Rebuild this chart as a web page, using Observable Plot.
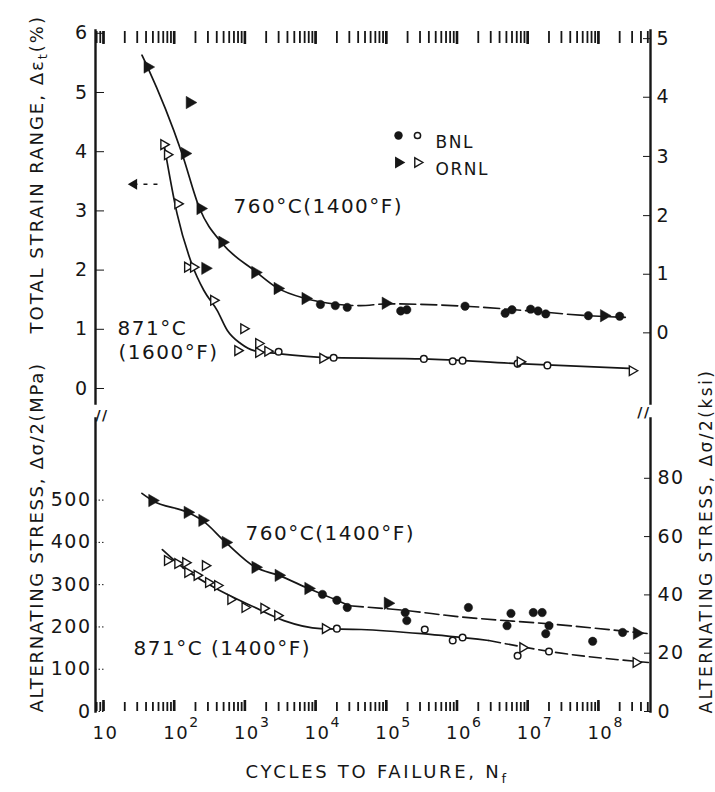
<!DOCTYPE html>
<html>
<head>
<meta charset="utf-8">
<script src="https://cdn.jsdelivr.net/npm/d3@7"></script>
<script src="https://cdn.jsdelivr.net/npm/@observablehq/plot@0.6"></script>
<style>
  body { margin: 0; background: #fff; }
  #chart { position: relative; width: 715px; height: 792px; background: #fff; }
  #chart svg { position: absolute; left: 0; top: 0; overflow: visible; }
</style>
</head>
<body>
<div id="chart"></div>
<script>
// ---------- axis ticks & labels ----------
const decadeTicks = [1e1, 1e2, 1e3, 1e4, 1e5, 1e6, 1e7, 1e8];
const decadeBase = ["10", "10", "10", "10", "10", "10", "10", "10"];
const decadeExp = ["", "2", "3", "4", "5", "6", "7", "8"];
const strainTicks = [0, 1, 2, 3, 4, 5, 6];
const strainLabels = ["0", "1", "2", "3", "4", "5", "6"];
const strainRightPos = [0.94, 1.93, 2.92, 3.92, 4.92, 5.91];
const strainRightLabels = ["0", "1", "2", "3", "4", "5"];
const stressTicks = [0, 100, 200, 300, 400, 500];
const stressLabels = ["0", "100", "200", "300", "400", "500"];
const ksiTicks = [0, 20, 40, 60, 80];
const ksiLabels = ["0", "20", "40", "60", "80"];
const MPA_PER_KSI = 6.895;
const legendLabels = ["BNL", "ORNL"];

// ---------- top panel: total strain range (%) vs cycles ----------
const topBNLfilled = [[11700,1.42],[19000,1.40],[28000,1.37],[160000,1.31],[195000,1.33],[1.3e6,1.39],[4.8e6,1.27],[6.0e6,1.33],[1.1e7,1.34],[1.4e7,1.31],[1.8e7,1.26],[7.2e7,1.23],[2.0e8,1.22]];
const topORNLfilled = [[42,5.43],[166,4.83],[141,3.97],[235,3.04],[480,2.47],[1400,1.96],[2900,1.69],[7200,1.52],[275,2.03],[98000,1.44],[1.2e8,1.23]];
const topBNLopen = [[3000,0.62],[18000,0.52],[3.4e5,0.50],[8.7e5,0.46],[1.2e6,0.47],[7.2e6,0.42],[1.9e7,0.39]];
const topORNLopen = [[71,4.12],[80,3.95],[112,3.12],[154,2.05],[187,2.05],[360,1.49],[960,1.01],[790,0.64],[1560,0.76],[1560,0.61],[2100,0.63],[12600,0.51],[7.8e6,0.45],[3.0e8,0.30]];
const topRunout = [[27, 58, 3.45]]; // [arrow head N, tail N, strain]
const top760solid = [[35,5.63],[42,5.43],[129,3.97],[229,3.04],[479,2.45],[1410,1.98],[2870,1.70],[7200,1.52],[20000,1.42]];
const top760dashed = [[20000,1.42],[43000,1.40],[100000,1.43],[1.3e6,1.39],[8.5e6,1.32],[7.2e7,1.23],[2.7e8,1.20]];
const top871 = [[71,4.16],[110,2.95],[178,2.10],[262,1.66],[405,1.32],[565,0.98],[870,0.76],[1350,0.64],[2870,0.59],[18000,0.52],[3.4e5,0.50],[7.2e6,0.42],[2.7e8,0.34]];

// ---------- bottom panel: alternating stress (MPa) vs cycles ----------
const botORNLfilled = [[49,499],[155,471],[250,452],[535,400],[1410,341],[3000,322],[7900,291],[1.05e5,256],[3.5e8,185]];
const botBNLfilled = [[12500,277],[20000,263],[28000,246],[1.85e5,234],[1.95e5,215],[1.45e6,246],[5.8e6,232],[5.1e6,203],[1.2e7,234],[1.6e7,234],[2.0e7,203],[1.8e7,184],[8.3e7,166],[2.2e8,187]];
const botBNLopen = [[20000,196],[3.5e5,194],[8.7e5,168],[1.2e6,175],[7.2e6,132],[2.0e7,142]];
const botORNLopen = [[80,357],[112,350],[145,352],[155,329],[210,322],[275,345],[305,305],[410,298],[630,265],[1000,246],[1850,244],[2900,227],[13700,196],[8.5e6,151],[3.4e8,116]];
const bot760solid = [[35,516],[49,499],[155,471],[250,452],[535,400],[1410,341],[3000,322],[7900,291],[20000,263],[30000,250]];
const bot760dashed = [[30000,250],[1.85e5,239],[9.5e5,225],[2.45e7,206],[5.1e8,184]];
const bot871solid = [[68,383],[152,333],[363,294],[1350,247],[3560,215],[11700,196],[44000,194],[3.2e5,184],[2.8e6,168]];
const bot871dashed = [[2.8e6,168],[2.45e7,140],[5.1e8,116]];

// ---------- drawing ----------
const ink = "#161616";
const FONT = "'DejaVu Sans', 'Liberation Sans', sans-serif";
const W = 715, H = 792, ML = 95, MR = 65;
const xDomain = [10 ** 0.887, 10 ** 8.737];
const minorTicks = d3.scaleLog().domain(xDomain).ticks(40);
const pts = a => a.map(([n, v]) => ({n, v}));
const baseStyle = {fontFamily: FONT, color: ink, background: "transparent", letterSpacing: "1.5px", overflow: "visible"};
const lab = (ticks, labels) => d => labels[ticks.indexOf(d)];

function symbolMarks(bf, rf, bo, ro) {
  return [
    Plot.dot(pts(bf), {x: "n", y: "v", r: 4.2, fill: ink, stroke: ink, strokeWidth: 0.5}),
    Plot.dot(pts(rf), {x: "n", y: "v", symbol: "triangle", rotate: 90, r: 4.6, fill: ink, stroke: ink, strokeWidth: 0.5}),
    Plot.dot(pts(bo), {x: "n", y: "v", r: 3.3, fill: "white", stroke: ink, strokeWidth: 1.5}),
    Plot.dot(pts(ro), {x: "n", y: "v", symbol: "triangle", rotate: 90, r: 3.6, fill: "white", stroke: ink, strokeWidth: 1.4})
  ];
}

const topPlot = Plot.plot({
  width: W, height: H,
  marginLeft: ML, marginRight: MR, marginTop: 30, marginBottom: H - 403,
  style: baseStyle,
  x: {type: "log", domain: xDomain},
  y: {domain: [-0.2534, 6.0473]},
  marks: [
    Plot.frame({anchor: "left", stroke: ink, strokeWidth: 2.4}),
    Plot.frame({anchor: "right", stroke: ink, strokeWidth: 2.4}),
    Plot.axisX(minorTicks, {anchor: "top", tickSize: -12, tickFormat: () => "", stroke: ink, strokeWidth: 1.8, label: null}),
    Plot.axisX(decadeTicks, {anchor: "top", tickSize: -13, tickFormat: () => "", stroke: ink, strokeWidth: 2.6, label: null}),
    Plot.axisY(strainTicks, {anchor: "left", tickSize: -9, tickFormat: () => "", stroke: ink, label: null}),
    Plot.axisY(strainTicks, {anchor: "left", tickSize: 0, tickPadding: 7, fontSize: 19, fill: ink, label: null,
      tickFormat: lab(strainTicks, strainLabels)}),
    Plot.axisY(strainRightPos, {anchor: "right", tickSize: -8, tickFormat: () => "", stroke: ink, label: null}),
    Plot.axisY(strainRightPos, {anchor: "right", tickSize: 0, tickPadding: 6, fontSize: 19, fill: ink, label: null,
      tickFormat: lab(strainRightPos, strainRightLabels)}),
    // curves
    Plot.line(pts(top760solid), {x: "n", y: "v", curve: "monotone-x", stroke: ink, strokeWidth: 1.7}),
    Plot.line(pts(top760dashed), {x: "n", y: "v", curve: "monotone-x", stroke: ink, strokeWidth: 1.6, strokeDasharray: "16,5"}),
    Plot.line(pts(top871), {x: "n", y: "v", curve: "monotone-x", stroke: ink, strokeWidth: 1.7}),
    // run-out arrow
    Plot.link(topRunout, {x1: d => d[1], x2: d => d[0], y1: d => d[2], y2: d => d[2], stroke: ink, strokeWidth: 1.6, strokeDasharray: "4,6"}),
    Plot.dot(topRunout, {x: d => d[0], y: d => d[2], symbol: "triangle", rotate: -90, r: 4, fill: ink}),
    ...symbolMarks(topBNLfilled, topORNLfilled, topBNLopen, topORNLopen),
    // legend
    Plot.dot([legendLabels[0]], {frameAnchor: "top-left", dx: 303, dy: 105, r: 4.2, fill: ink}),
    Plot.dot([legendLabels[0]], {frameAnchor: "top-left", dx: 322, dy: 105, r: 3.1, fill: "white", stroke: ink, strokeWidth: 1.5}),
    Plot.dot([legendLabels[1]], {frameAnchor: "top-left", dx: 303, dy: 132, symbol: "triangle", rotate: 90, r: 4.4, fill: ink}),
    Plot.dot([legendLabels[1]], {frameAnchor: "top-left", dx: 322, dy: 132, symbol: "triangle", rotate: 90, r: 3.5, fill: "white", stroke: ink, strokeWidth: 1.4}),
    Plot.text([legendLabels[0]], {frameAnchor: "top-left", dx: 340, dy: 105, textAnchor: "start", fontSize: 17, fill: ink}),
    Plot.text([legendLabels[1]], {frameAnchor: "top-left", dx: 340, dy: 132, textAnchor: "start", fontSize: 17, fill: ink}),
    // annotations
    Plot.text(["760°C(1400°F)"], {frameAnchor: "top-left", dx: 138, dy: 168, textAnchor: "start", fontSize: 20, fill: ink}),
    Plot.text(["871°C"], {frameAnchor: "top-left", dx: 22, dy: 290, textAnchor: "start", fontSize: 20, fill: ink}),
    Plot.text(["(1600°F)"], {frameAnchor: "top-left", dx: 23, dy: 314, textAnchor: "start", fontSize: 20, fill: ink}),
    // y title (start = bottom end of the rotated text)
    Plot.text(["TOTAL STRAIN RANGE, Δεt(%)"], {frameAnchor: "top-left", dx: -65, dy: 303, rotate: -90, textAnchor: "start", fontSize: 18, fill: ink})
  ]
});

const ksiPos = ksiTicks.map(k => k * MPA_PER_KSI);

const botPlot = Plot.plot({
  width: W, height: H,
  marginLeft: ML, marginRight: MR, marginTop: 418, marginBottom: H - 711,
  style: baseStyle,
  x: {type: "log", domain: xDomain},
  y: {domain: [0, 693]},
  marks: [
    Plot.frame({anchor: "left", stroke: ink, strokeWidth: 2.4}),
    Plot.frame({anchor: "right", stroke: ink, strokeWidth: 2.4}),
    Plot.text(["//"], {frameAnchor: "top-left", dy: -8, fontSize: 14, fontWeight: "bold", fill: ink}),
    Plot.text(["//"], {frameAnchor: "top-right", dy: -11, fontSize: 14, fontWeight: "bold", fill: ink}),
    Plot.axisX(minorTicks, {anchor: "bottom", tickSize: -9, tickFormat: () => "", stroke: ink, strokeWidth: 1.8, label: null}),
    Plot.axisX(decadeTicks, {anchor: "bottom", tickSize: -11, tickFormat: () => "", stroke: ink, strokeWidth: 2.6, label: null}),
    Plot.text(decadeTicks, {x: d => d, text: (d, i) => decadeBase[i], frameAnchor: "bottom", dy: 27, dx: -11, textAnchor: "start", fontSize: 18, fill: ink}),
    Plot.text(decadeTicks, {x: d => d, text: (d, i) => decadeExp[i], frameAnchor: "bottom", dy: 15, dx: 15, textAnchor: "start", fontSize: 14, fill: ink}),
    Plot.axisY(stressTicks, {anchor: "left", tickSize: -10, tickFormat: () => "", stroke: ink, strokeDasharray: "1.5,2", label: null}),
    Plot.axisY(stressTicks, {anchor: "left", tickSize: 0, tickPadding: 4, fontSize: 19, fill: ink, label: null,
      tickFormat: lab(stressTicks, stressLabels)}),
    Plot.axisY(ksiPos, {anchor: "right", tickSize: -7, tickFormat: () => "", stroke: ink, label: null}),
    Plot.axisY(ksiPos, {anchor: "right", tickSize: 0, tickPadding: 7, fontSize: 19, fill: ink, label: null,
      tickFormat: lab(ksiPos, ksiLabels)}),
    // curves
    Plot.line(pts(bot760solid), {x: "n", y: "v", curve: "monotone-x", stroke: ink, strokeWidth: 1.7}),
    Plot.line(pts(bot760dashed), {x: "n", y: "v", curve: "monotone-x", stroke: ink, strokeWidth: 1.6, strokeDasharray: "14,5"}),
    Plot.line(pts(bot871solid), {x: "n", y: "v", curve: "monotone-x", stroke: ink, strokeWidth: 1.7}),
    Plot.line(pts(bot871dashed), {x: "n", y: "v", curve: "monotone-x", stroke: ink, strokeWidth: 1.6, strokeDasharray: "12,5"}),
    ...symbolMarks(botBNLfilled, botORNLfilled, botBNLopen, botORNLopen),
    // annotations
    Plot.text(["760°C(1400°F)"], {frameAnchor: "top-left", dx: 150, dy: 107, textAnchor: "start", fontSize: 20, fill: ink}),
    Plot.text(["871°C (1400°F)"], {frameAnchor: "top-left", dx: 38, dy: 222, textAnchor: "start", fontSize: 20, fill: ink}),
    // titles
    Plot.text(["CYCLES TO FAILURE, Nf"], {frameAnchor: "bottom-left", dx: 150, dy: 66, textAnchor: "start", fontSize: 18, fill: ink}),
    Plot.text(["ALTERNATING STRESS, Δσ/2(MPa)"], {frameAnchor: "top-left", dx: -65, dy: 294, rotate: -90, textAnchor: "start", fontSize: 18, fill: ink}),
    Plot.text(["ALTERNATING STRESS, Δσ/2(ksi)"], {frameAnchor: "top-right", dx: 49, dy: 295, rotate: -90, textAnchor: "start", fontSize: 17, fill: ink})
  ]
});

const chart = document.getElementById("chart");
chart.append(topPlot, botPlot);

// subscripts and exact title lengths
function findText(svg, content) {
  return d3.select(svg).selectAll("text").filter(function () { return this.textContent === content; });
}
findText(topPlot, "TOTAL STRAIN RANGE, Δεt(%)").each(function () {
  const t = d3.select(this); t.text(null);
  t.append("tspan").text("TOTAL STRAIN RANGE, Δε");
  t.append("tspan").attr("dy", 4).attr("font-size", 13).text("t");
  t.append("tspan").attr("dy", -4).text("(%)");
  t.attr("textLength", 318).attr("lengthAdjust", "spacing");
});
findText(botPlot, "CYCLES TO FAILURE, Nf").each(function () {
  const t = d3.select(this); t.text(null);
  t.append("tspan").text("CYCLES TO FAILURE, N");
  t.append("tspan").attr("dy", 5).attr("font-size", 13).text("f");
  t.attr("textLength", 262).attr("lengthAdjust", "spacing");
});
findText(botPlot, "ALTERNATING STRESS, Δσ/2(MPa)").attr("textLength", 350).attr("lengthAdjust", "spacing");
findText(botPlot, "ALTERNATING STRESS, Δσ/2(ksi)").attr("textLength", 344).attr("lengthAdjust", "spacing");
</script>
</body>
</html>
